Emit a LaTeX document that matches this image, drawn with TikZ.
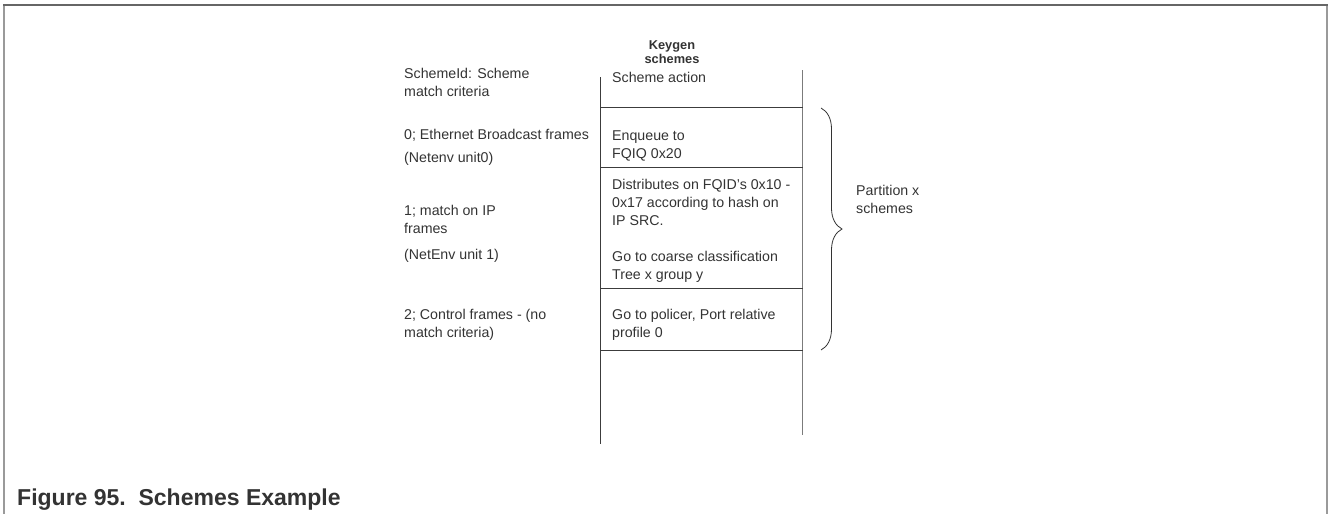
\documentclass[tikz,border=0pt]{standalone}
\usepackage{fontspec}
\setmainfont{Liberation Sans}
\usetikzlibrary{decorations.pathreplacing}
\definecolor{txtgray}{HTML}{333333}
\definecolor{framegray}{HTML}{9A9A9A}
\definecolor{linegray}{HTML}{3C3C3C}
\begin{document}
\begin{tikzpicture}[x=1pt,y=-1pt,
		celltext/.style={anchor=base west,inner sep=0pt,align=left,text=txtgray,
			font=\fontsize{14.2}{18}\selectfont},
		tableline/.style={draw=linegray,line width=0.9pt}]
	\useasboundingbox (0,0) rectangle (1328,514);
	% Frame
	\draw[framegray,line width=1.6pt] (4,514) -- (4,5) (1327,5) -- (1327,514);
	\draw[black!60,line width=1.4pt] (3,5) -- (1328,5);
	% Table
	\draw[tableline] (600.5,77) -- (600.5,444);
	\draw[framegray!80!black,line width=1.4pt] (802.5,70) -- (802.5,435);
	\foreach \y in {107,167,288,350} {
			\draw[tableline] (600.5,\y) -- (802.5,\y);
		}
	% Header (base = last line)
	\node[anchor=base,inner sep=0pt,align=center,text=txtgray,
		font=\bfseries\fontsize{12.8}{14}\selectfont] (keygen) at (672,63.3) {Keygen\\schemes};
	% Match criteria
	\node[celltext] (schemeid) at (404,96.5) {SchemeId: Scheme\\match criteria};
	\node[celltext] (bcast) at (404,139) {0; Ethernet Broadcast frames};
	\node[celltext] (netenv0) at (404,162) {(Netenv unit0)};
	\node[celltext] (ipmatch) at (404,233) {1; match on IP\\frames};
	\node[celltext] (netenv1) at (404,259) {(NetEnv unit 1)};
	\node[celltext] (ctrl) at (404,337.5) {2; Control frames - (no\\match criteria)};
	% Scheme actions
	\node[celltext] (action) at (612,82) {Scheme action};
	\node[celltext] (enqueue) at (612,158) {Enqueue to\\FQIQ 0x20};
	\node[celltext] (distrib) at (612,225) {Distributes on FQID's 0x10 -\\0x17 according to hash on\\IP SRC.};
	\node[celltext] (coarse) at (612,279.5) {Go to coarse classification\\Tree x group y};
	\node[celltext] (policer) at (612,337.5) {Go to policer, Port relative\\profile 0};
	% Brace
	\coordinate (bracetop) at (821,108);
	\coordinate (bracebot) at (821,350);
	\draw[txtgray,line width=0.8pt,decorate,decoration={brace,amplitude=21pt}] (bracetop) -- (bracebot);
	\node[celltext] (partition) at (856,213) {Partition x\\schemes};
	% Caption
	\node[anchor=base west,inner sep=0pt,text=txtgray,
		font=\bfseries\fontsize{23}{27}\selectfont] (caption) at (17,505) {Figure 95.\ \ Schemes Example};
\end{tikzpicture}
\end{document}
